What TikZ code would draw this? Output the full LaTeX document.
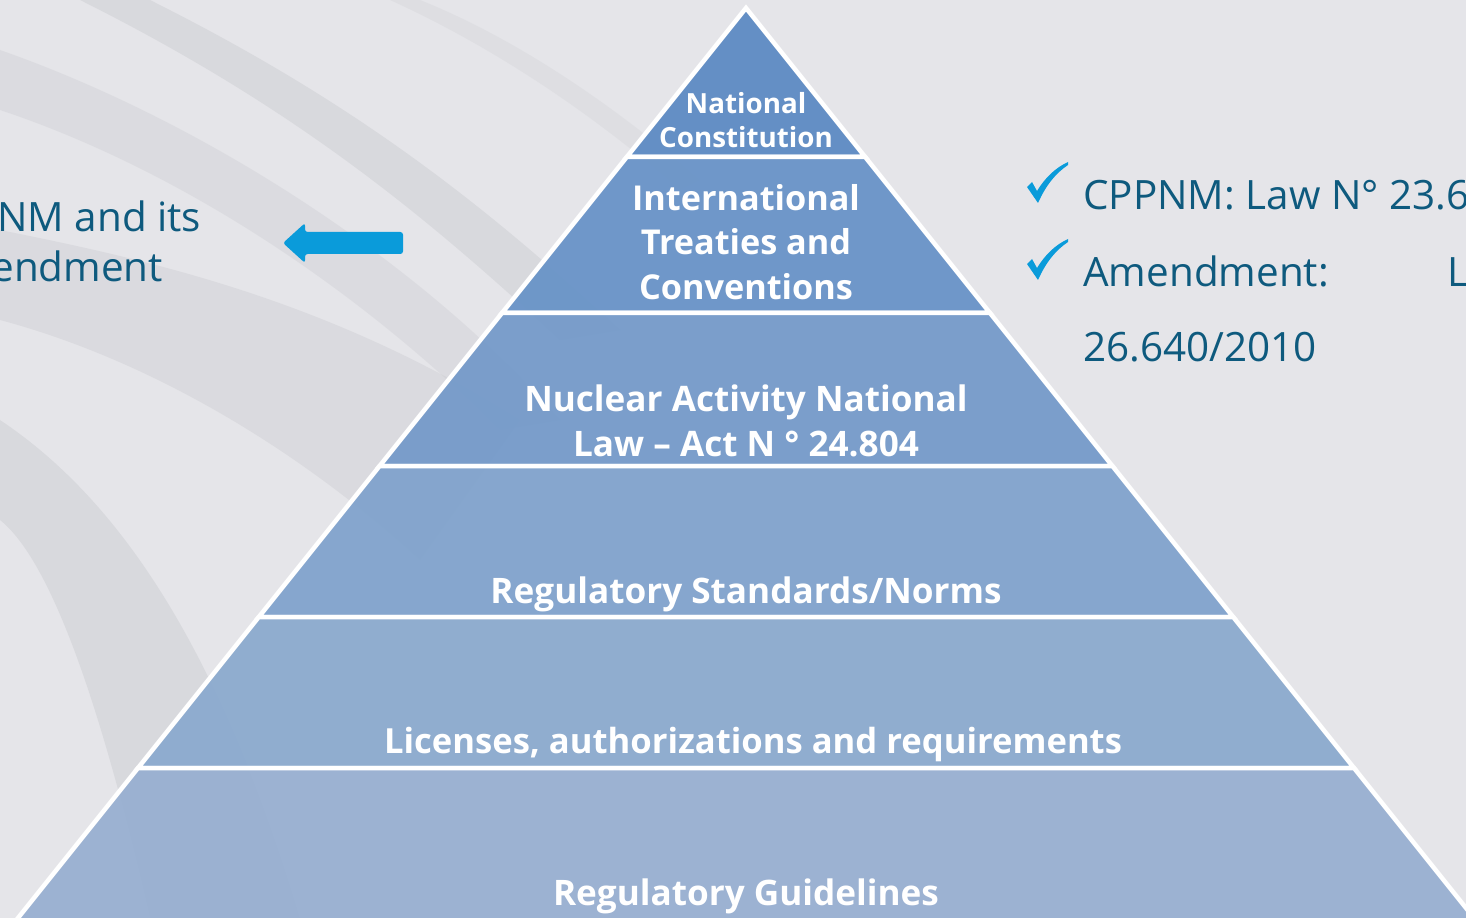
\documentclass[tikz,border=0pt]{standalone}
\usepackage{fontspec}
\setmainfont{Open Sans}
\usepackage{tikz}
\usetikzlibrary{positioning}

\definecolor{bgGray}{HTML}{E5E5E9}
\definecolor{stripeGray}{HTML}{CACBD0}
\definecolor{lvlA}{HTML}{5B89C3}
\definecolor{lvlB}{HTML}{6792C7}
\definecolor{lvlC}{HTML}{7399C9}
\definecolor{lvlD}{HTML}{7FA2CC}
\definecolor{lvlE}{HTML}{8AA9CE}
\definecolor{lvlF}{HTML}{97AFD1}
\definecolor{tealText}{HTML}{0E5A7E}
\definecolor{brightBlue}{HTML}{0A9BDA}

\newcommand{\checkmarkAt}[1]{%
  \fill[brightBlue, shift={(#1)}] (0,24) -- (5,19) -- (10,28)
     .. controls (18,15) and (28,5) .. (41,-1) -- (41,2)
     .. controls (29,10) and (19,22) .. (11,40) -- cycle;}

\begin{document}
\begin{tikzpicture}[
    x=0.02cm, y=-0.02cm,
    band/.style={
		draw=white,
		line width=0.09cm,
		line join=miter,
		fill opacity=0.93
	},
	level/.style={
		text=white,
		inner sep=0pt,
		align=center
	},
	side/.style={
		text=tealText,
		inner sep=0pt,
		anchor=base west,
		font=\fontsize{23}{28}\selectfont
	}
  ]
  \useasboundingbox (0,0) rectangle (1466,918);
  \clip (0,0) rectangle (1466,918);
  \fill[bgGray] (0,0) rectangle (1466,918);

  % soft stripes behind
  \fill[stripeGray, opacity=0.45] (150,0) .. controls (350,100) and (480,200) .. (620,330)
     -- (560,340) .. controls (430,220) and (300,110) .. (80,0) -- cycle;
  \fill[stripeGray, opacity=0.35] (0,50) .. controls (200,120) and (420,260) .. (560,420)
     -- (500,430) .. controls (360,290) and (180,170) .. (0,110) -- cycle;
  \fill[stripeGray, opacity=0.40] (0,230) .. controls (150,260) and (330,300) .. (520,420)
     -- (420,560) .. controls (300,450) and (150,360) .. (0,320) -- cycle;
  \fill[stripeGray, opacity=0.45] (0,420) .. controls (120,500) and (220,650) .. (300,918)
     -- (150,918) .. controls (100,700) and (50,560) .. (0,520) -- cycle;
  \fill[stripeGray, opacity=0.25] (420,0) .. controls (520,40) and (620,110) .. (700,180)
     -- (680,190) .. controls (600,120) and (500,50) .. (390,0) -- cycle;

  % the pyramid, top to bottom
  \draw[band, fill=lvlA] (746,8) -- (865.2,157) -- (626.8,157) -- cycle;
  \draw[band, fill=lvlB] (626.8,157) -- (865.2,157) -- (990,313) -- (502,313) -- cycle;
  \draw[band, fill=lvlC] (502,313) -- (990,313) -- (1112.4,466) -- (379.6,466) -- cycle;
  \draw[band, fill=lvlD] (379.6,466) -- (1112.4,466) -- (1233.2,617) -- (258.8,617) -- cycle;
  \draw[band, fill=lvlE] (258.8,617) -- (1233.2,617) -- (1354,768) -- (138,768) -- cycle;
  \draw[band, fill=lvlF] (138,768) -- (1354,768) -- (1491.6,940) -- (0.4,940) -- cycle;

  \node [level, font=\bfseries\fontsize{15.8}{19.8}\selectfont] (natcon) at (746,120)
    {National\\Constitution};
  \node [level, font=\bfseries\fontsize{19.5}{25.5}\selectfont] (treaties) at (746,242)
    {International\\Treaties and\\Conventions};
  \node [level, font=\bfseries\fontsize{20}{25.5}\selectfont] (nuclaw) at (746,421)
    {Nuclear Activity National\\Law -- Act N ° 24.804};
  \node [level, font=\bfseries\fontsize{20}{25.5}\selectfont] (regstd) at (746,594)
    {Regulatory Standards/Norms};
  \node [level, font=\bfseries\fontsize{19.7}{25.5}\selectfont] (licenses) at (753,745)
    {Licenses, authorizations and requirements};
  \node [level, font=\bfseries\fontsize{20}{25.5}\selectfont] (guidelines) at (746,896)
    {Regulatory Guidelines};

  % right hand notes
  \coordinate (tickA) at (1027,163);
  \coordinate (tickB) at (1027,240);
  \checkmarkAt{tickA}
  \checkmarkAt{tickB}
  \node [side] (cppnm) at (1083,210) {CPPNM: Law N° 23.6};
  \node [side] (amend) at (1083,287) {Amendment:};
  \node [side] (amendL) at (1447,287) {L};
  \node [side] (amendno) at (1083,362) {26.640/2010};

  % left hand note and arrow
  \node [side] (leftA) at (-3,232) {NM and its};
  \node [side] (leftB) at (-9,282) {endment};
  \fill[brightBlue, rounded corners=1.5pt] (283,243) -- (305,223) -- (305,232) -- (403,232)
     -- (403,254) -- (305,254) -- (305,263) -- cycle;

\end{tikzpicture}
\end{document}
